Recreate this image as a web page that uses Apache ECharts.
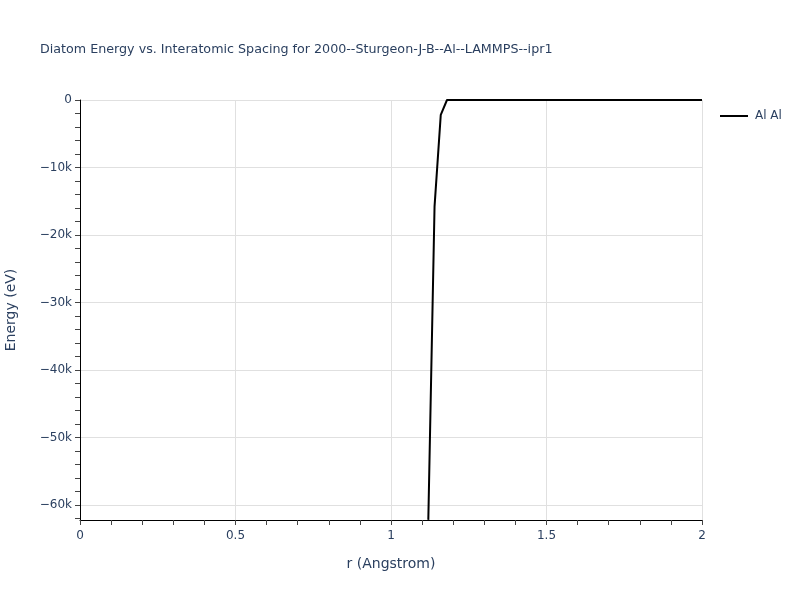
<!DOCTYPE html>
<html><head><meta charset="utf-8">
<script src="https://cdn.jsdelivr.net/npm/echarts@6/dist/echarts.min.js"></script>
<style>html,body{margin:0;padding:0;background:#fff}#c{width:800px;height:600px}</style>
</head><body><div id="c"></div>
<script>
const titleText = 'Diatom Energy vs. Interatomic Spacing for 2000--Sturgeon-J-B--Al--LAMMPS--ipr1';
const seriesName = 'Al Al';
const rValues = [1.12, 1.14, 1.16, 1.18, 1.2, 1.4, 1.6, 1.8, 2.0];
const energyValues = [-62200, -15800, -2200, 0, 0, 0, 0, 0, 0];
const yMajorTicks = [0, -10000, -20000, -30000, -40000, -50000, -60000];
const yMinorTicks = [];
for (let v = 0; v >= -62000; v -= 2000) yMinorTicks.push(v);
const xRange = [0, 2];
const yRange = [-62220, 0];

const font = 'DejaVu Sans, Verdana, sans-serif';
const txt = '#2a3f5f';
const chart = echarts.init(document.getElementById('c'), null, {renderer: 'canvas'});
const fmtY = v => v === 0 ? '0' : '\u2212' + Math.abs(v / 1000) + 'k';
chart.setOption({
  animation: false,
  backgroundColor: '#fff',
  title: {text: titleText, left: 35, top: 38, textStyle: {fontFamily: font, fontSize: 12.7, fontWeight: 'normal', color: txt}},
  legend: {
    left: 715, top: 105, itemWidth: 28, itemHeight: 2, itemGap: 5,
    data: [{name: seriesName, icon: 'rect'}],
    textStyle: {fontFamily: font, fontSize: 12, color: txt, padding: [0, 0, 0, 2]}
  },
  grid: {left: 80, right: 98, top: 100, bottom: 80, containLabel: false, outerBoundsMode: 'none'},
  xAxis: {
    type: 'value', min: xRange[0], max: xRange[1], interval: 0.5,
    name: 'r (Angstrom)', nameLocation: 'middle', nameGap: 37,
    nameTextStyle: {fontFamily: font, fontSize: 14, color: txt},
    axisLine: {show: true, onZero: false, lineStyle: {color: '#000', width: 1}},
    axisTick: {show: true, length: 5, lineStyle: {color: '#444'}},
    minorTick: {show: true, splitNumber: 5, length: 5, lineStyle: {color: '#444'}},
    axisLabel: {fontFamily: font, fontSize: 12, color: txt, margin: 10},
    splitLine: {show: true, lineStyle: {color: '#e0e0e0'}}
  },
  yAxis: [{
    type: 'value', min: yRange[0], max: yRange[1], position: 'left',
    name: 'Energy (eV)', nameLocation: 'middle', nameGap: 62,
    nameTextStyle: {fontFamily: font, fontSize: 14, color: txt},
    axisLine: {show: true, onZero: false, lineStyle: {color: '#000', width: 1}},
    axisTick: {show: true, length: 5, customValues: yMajorTicks, lineStyle: {color: '#444'}},
    axisLabel: {fontFamily: font, fontSize: 12, color: txt, margin: 8, customValues: yMajorTicks, formatter: fmtY},
    splitLine: {show: true, lineStyle: {color: '#e0e0e0'}}
  }, {
    type: 'value', min: yRange[0], max: yRange[1], position: 'left',
    axisLine: {show: false},
    axisTick: {show: true, length: 5, customValues: yMinorTicks, lineStyle: {color: '#444'}},
    axisLabel: {show: false},
    splitLine: {show: false}
  }],
  series: [{
    name: seriesName, type: 'line', yAxisIndex: 0,
    data: rValues.map((r, i) => [r, energyValues[i]]),
    showSymbol: false, symbol: 'none',
    lineStyle: {color: '#000', width: 2}, itemStyle: {color: '#000'}
  }]
});
</script></body></html>
